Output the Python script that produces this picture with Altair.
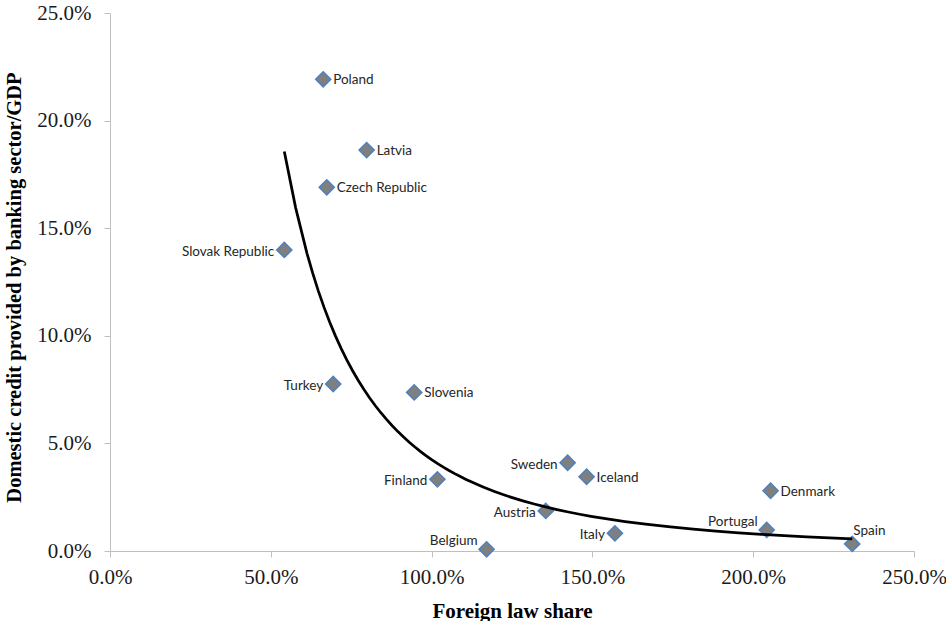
import altair as alt
import pandas as pd

# Cross-country observations (shares expressed as fractions)
countries = [
    "Poland", "Latvia", "Czech Republic", "Slovak Republic", "Turkey",
    "Slovenia", "Finland", "Belgium", "Austria", "Sweden",
    "Iceland", "Italy", "Denmark", "Portugal", "Spain",
]
foreign_law_share = [
    0.663, 0.798, 0.674, 0.542, 0.694,
    0.946, 1.018, 1.171, 1.355, 1.423,
    1.482, 1.570, 2.054, 2.042, 2.308,
]
domestic_credit_gdp = [
    0.2192, 0.1863, 0.1690, 0.1399, 0.0776,
    0.0737, 0.0333, 0.0008, 0.0186, 0.0410,
    0.0345, 0.0082, 0.0280, 0.0098, 0.0033,
]

x_ticks = [0, 0.5, 1.0, 1.5, 2.0, 2.5]
y_ticks = [0, 0.05, 0.10, 0.15, 0.20, 0.25]

df = pd.DataFrame({
    "country": countries,
    "share": foreign_law_share,
    "credit": domestic_credit_gdp,
})

# Where each country's label sits relative to its marker
label_side = {
    "Poland": "right", "Latvia": "right", "Czech Republic": "right",
    "Slovenia": "right", "Iceland": "right", "Denmark": "right",
    "Slovak Republic": "left", "Turkey": "left", "Finland": "left",
    "Austria": "left", "Sweden": "left", "Italy": "left",
    "Belgium": "above_left", "Portugal": "above_left",
    "Spain": "above_right",
}
side_style = {
    "right": dict(align="left", dx=10, dy=1),
    "left": dict(align="right", dx=-10, dy=2),
    "above_left": dict(align="right", dx=-9, dy=-8),
    "above_right": dict(align="left", dx=1, dy=-13),
}

SERIF = "Liberation Serif"
AXIS_GREY = "#bfbfbf"

x_enc = alt.X(
    "share:Q",
    scale=alt.Scale(domain=[0, 2.5], nice=False, zero=True),
    axis=alt.Axis(
        values=x_ticks, format=".1%", title="Foreign law share", grid=False,
        domainColor=AXIS_GREY, tickColor=AXIS_GREY, tickSize=6,
        labelFont=SERIF, labelFontSize=21, labelColor="#1a1a1a", labelPadding=9,
        titleFont=SERIF, titleFontSize=21, titleFontWeight="bold", titleColor="#000000",
        titleBaseline="alphabetic", titleY=66, labelFlush=False,
    ),
)
y_enc = alt.Y(
    "credit:Q",
    scale=alt.Scale(domain=[0, 0.25], nice=False, zero=True),
    axis=alt.Axis(
        values=y_ticks, format=".1%",
        title="Domestic credit provided by banking sector/GDP", grid=False,
        domainColor=AXIS_GREY, tickColor=AXIS_GREY, tickSize=6,
        labelFont=SERIF, labelFontSize=21, labelColor="#1a1a1a", labelPadding=13,
        titleFont=SERIF, titleFontSize=20.5, titleFontWeight="bold", titleColor="#000000",
        titleAngle=270, titleBaseline="alphabetic", titleAlign="center",
        titleX=-90, titleY=274, labelFlush=False,
    ),
)

base = alt.Chart(df)

points = base.mark_point(
    shape="diamond", filled=True, size=230, fill="#7f7f7f",
    stroke="#4f81bd", strokeWidth=1.5, opacity=1,
).encode(x=x_enc, y=y_enc)

# Power-law trend fitted to the observations
trend = base.transform_regression(
    "share", "credit", method="pow"
).mark_line(color="#000000", strokeWidth=2.75).encode(x=x_enc, y=y_enc)

label_layers = []
for side, style in side_style.items():
    names = [c for c in countries if label_side[c] == side]
    label_layers.append(
        base.transform_filter(alt.FieldOneOfPredicate(field="country", oneOf=names))
        .mark_text(font="Lato", fontSize=13.5, color="#262626", baseline="middle", **style)
        .encode(x=x_enc, y=y_enc, text="country:N")
    )

chart = alt.layer(points, trend, *label_layers).properties(
    width=804,
    height=538,
    background="white",
    autosize=alt.AutoSizeParams(type="none"),
    padding={"left": 110, "top": 13, "right": 32, "bottom": 70},
).configure_view(strokeWidth=0)

chart.save("out.html", embed_options={"renderer": "svg", "actions": False})
